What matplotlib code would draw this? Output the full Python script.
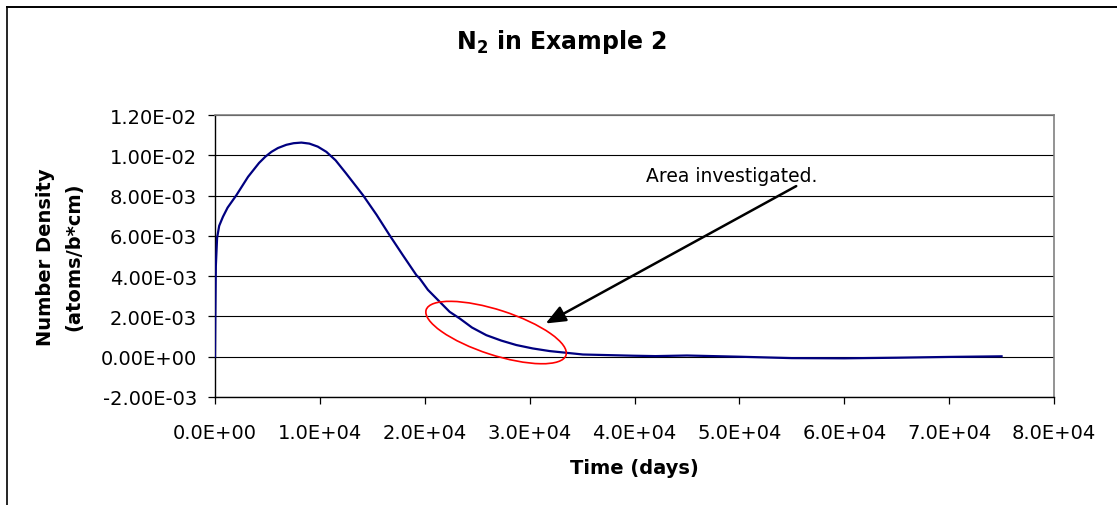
import matplotlib
matplotlib.use("Agg")
import matplotlib.pyplot as plt
from matplotlib.patches import Ellipse
from matplotlib.lines import Line2D
from matplotlib.ticker import FuncFormatter, MultipleLocator
from matplotlib.transforms import IdentityTransform

plt.rcParams["mathtext.fontset"] = "dejavusans"

# N2 number density over time (days, atoms/b*cm)
time_days = [0, 30, 80, 200, 400, 760, 1200, 2040, 3150, 4200, 4800, 5380,
             6000, 6800, 7500, 8240, 9000, 9800, 10620, 11500, 12500, 14110,
             15400, 16650, 17900, 19200, 19510, 20300, 21420, 22370, 23330,
             24500, 25870, 27300, 28730, 30300, 31910, 35080, 39820, 42000,
             45000, 50000, 55000, 60000, 65000, 70000, 75000]
density = [0.0, 2.0e-3, 4.5e-3, 5.9e-3, 6.5e-3, 6.95e-3, 7.4e-3, 8.02e-3,
           8.93e-3, 9.62e-3, 9.93e-3, 10.17e-3, 10.36e-3, 10.52e-3, 10.6e-3,
           10.63e-3, 10.58e-3, 10.43e-3, 10.17e-3, 9.75e-3, 9.1e-3, 8.02e-3,
           7.05e-3, 6.03e-3, 5.05e-3, 4.05e-3, 3.89e-3, 3.32e-3, 2.73e-3,
           2.23e-3, 1.90e-3, 1.45e-3, 1.07e-3, 0.80e-3, 0.58e-3, 0.41e-3,
           0.28e-3, 0.11e-3, 0.05e-3, 0.03e-3, 0.06e-3, 0.0, -0.07e-3,
           -0.08e-3, -0.05e-3, -0.01e-3, 0.02e-3]

# annotation: circled region and arrow from the label
area_center = (26800, 1.2e-3)
arrow_tail = (55420, 8.47e-3)
arrow_tip = (31530, 1.65e-3)
label_pos = (41130, 8.70e-3)

W, H = 1117, 506
fig = plt.figure(figsize=(W / 100, H / 100), dpi=100)
fig.patch.set_facecolor("white")
ax = fig.add_axes([215 / W, 1 - 398 / H, (1054 - 215) / W, (398 - 116) / H])

ax.plot(time_days, density, color="#000080", lw=1.6, zorder=3)

ax.set_xlim(0, 80000)
ax.set_ylim(-2e-3, 1.2e-2)
ax.xaxis.set_major_locator(MultipleLocator(10000))
ax.yaxis.set_major_locator(MultipleLocator(2e-3))
ax.xaxis.set_major_formatter(FuncFormatter(lambda v, p: f"{v:.1E}"))
ax.yaxis.set_major_formatter(FuncFormatter(lambda v, p: f"{v:.2E}"))
ax.grid(axis="y", color="black", lw=0.8)
ax.tick_params(axis="both", direction="out", length=5, width=0.9,
               labelsize=14, colors="black")
ax.tick_params(axis="x", pad=14)
ax.tick_params(axis="y", pad=8)
for s in ("top", "right"):
    ax.spines[s].set_color("#808080")
    ax.spines[s].set_linewidth(1.2)
for s in ("left", "bottom"):
    ax.spines[s].set_color("black")
    ax.spines[s].set_linewidth(1.0)

# red ellipse around the area investigated (size in pixels)
cx, cy = ax.transData.transform(area_center)
ax.add_artist(Ellipse((cx, cy), 147, 45, angle=-18, transform=IdentityTransform(),
                      fill=False, ec="red", lw=1.2, zorder=4))

ax.annotate("", xy=arrow_tip, xytext=arrow_tail,
            arrowprops=dict(arrowstyle="-|>,head_length=0.6,head_width=0.25",
                            color="black", lw=1.8, mutation_scale=20,
                            shrinkA=0, shrinkB=0), zorder=5)
ax.text(label_pos[0], label_pos[1], "Area investigated.", fontsize=13.5,
        ha="left", va="baseline")

fig.text(562 / W, 1 - 41.5 / H, r"N$_\mathbf{2}$ in Example 2", fontsize=17,
         fontweight="bold", ha="center", va="center")
fig.text(634.5 / W, 1 - 469 / H, "Time (days)", fontsize=14,
         fontweight="bold", ha="center", va="center")
fig.text(60 / W, 1 - 257 / H, "Number Density\n(atoms/b*cm)", fontsize=14,
         fontweight="bold", ha="center", va="center", rotation=90,
         linespacing=1.6)

# chart-area border (only top and left visible)
fig.add_artist(Line2D([6.5 / W, 1], [1 - 8 / H, 1 - 8 / H], color="black",
                      lw=1.4, transform=fig.transFigure))
fig.add_artist(Line2D([6.5 / W, 6.5 / W], [0, 1 - 8 / H], color="black",
                      lw=1.2, transform=fig.transFigure))

fig.savefig("out.png", dpi=100)
